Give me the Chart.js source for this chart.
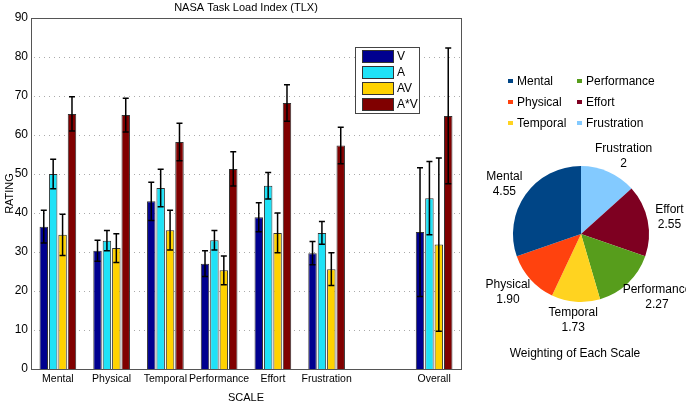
<!DOCTYPE html>
<html>
<head>
<meta charset="utf-8">
<script src="https://cdn.jsdelivr.net/npm/chart.js@4.4.0/dist/chart.umd.min.js"></script>
<style>
  body { margin: 0; background: #fff; width: 686px; height: 406px; overflow: hidden; position: relative; }
  #barChart { position: absolute; left: 0; top: 0; }
  #pieChart { position: absolute; left: 462px; top: 0; }
</style>
</head>
<body>
<canvas id="barChart" width="470" height="406"></canvas>
<canvas id="pieChart" width="224" height="406"></canvas>
<script>
// Bar chart data (the empty category is the gap before "Overall")
const scaleNames = ['Mental', 'Physical', 'Temporal', 'Performance', 'Effort', 'Frustration', '', 'Overall'];
const seriesNames = ['V', 'A', 'AV', 'A*V'];
const seriesColors = ['#00008f', '#1fe2f7', '#ffd200', '#800000'];
const vMean = [36.5, 30.3, 43.0, 27.0, 38.9, 29.7, null, 35.1];
const vErr = [4.2, 2.7, 4.9, 3.3, 3.7, 3.0, null, 16.5];
const aMean = [50.0, 32.9, 46.4, 33.0, 47.0, 34.9, null, 43.8];
const aErr = [3.8, 2.6, 4.8, 2.5, 3.4, 2.9, null, 9.4];
const avMean = [34.4, 31.0, 35.6, 25.3, 34.9, 25.6, null, 31.9];
const avErr = [5.3, 3.7, 5.1, 3.7, 5.1, 4.2, null, 22.2];
const axvMean = [65.4, 65.1, 58.2, 51.3, 68.2, 57.3, null, 64.9];
const axvErr = [4.4, 4.3, 4.8, 4.4, 4.7, 4.7, null, 17.4];

// Pie chart data (legend order)
const weightNames = ['Mental', 'Physical', 'Temporal', 'Performance', 'Effort', 'Frustration'];
const weights = [4.55, 1.90, 1.73, 2.27, 2.55, 2];
const weightText = ['4.55', '1.90', '1.73', '2.27', '2.55', '2'];
const weightColors = ['#004586', '#ff420e', '#ffd320', '#579d1c', '#7e0021', '#83caff'];

const FONT = '"Liberation Sans", Arial, sans-serif';

// dotted horizontal grid, drawn under the bars
const dottedGrid = {
  id: 'dottedGrid',
  beforeDatasetsDraw(chart) {
    const ctx = chart.ctx;
    const a = chart.chartArea;
    const y = chart.scales.y;
    ctx.save();
    ctx.strokeStyle = '#aaa';
    ctx.lineWidth = 1;
    ctx.setLineDash([1, 4]);
    y.ticks.forEach(t => {
      const py = Math.round(y.getPixelForValue(t.value)) + 0.5;
      ctx.beginPath();
      ctx.moveTo(a.left + 3, py);
      ctx.lineTo(a.right, py);
      ctx.stroke();
    });
    ctx.restore();
  }
};

// error bars drawn on top of every bar
const errorBars = {
  id: 'errorBars',
  afterDatasetsDraw(chart) {
    const ctx = chart.ctx;
    const y = chart.scales.y;
    chart.data.datasets.forEach((ds, i) => {
      const meta = chart.getDatasetMeta(i);
      meta.data.forEach((bar, j) => {
        const m = ds.data[j];
        const e = ds.errors[j];
        if (m == null) return;
        const top = y.getPixelForValue(m + e);
        const bot = y.getPixelForValue(m - e);
        ctx.save();
        ctx.strokeStyle = '#000';
        ctx.lineWidth = 1.5;
        ctx.beginPath();
        ctx.moveTo(bar.x, top); ctx.lineTo(bar.x, bot);
        ctx.moveTo(bar.x - 3, top); ctx.lineTo(bar.x + 3, top);
        ctx.moveTo(bar.x - 3, bot); ctx.lineTo(bar.x + 3, bot);
        ctx.stroke();
        ctx.restore();
      });
    });
  }
};

// box around the plot, title + matlab style legend
const frameAndLegend = {
  id: 'frameAndLegend',
  afterDraw(chart) {
    const ctx = chart.ctx;
    const a = chart.chartArea;
    ctx.save();
    ctx.strokeStyle = '#555';
    ctx.lineWidth = 1;
    ctx.strokeRect(Math.round(a.left) + 0.5, Math.round(a.top) + 0.5,
      Math.round(a.right - a.left), Math.round(a.bottom - a.top));

    ctx.fillStyle = '#000';
    ctx.font = '11px ' + FONT;
    ctx.textAlign = 'center';
    ctx.textBaseline = 'middle';
    ctx.fillText('NASA Task Load Index (TLX)', (a.left + a.right) / 2, 8);

    // legend box
    ctx.fillStyle = '#fff';
    ctx.fillRect(355.5, 47.5, 64, 66);
    ctx.strokeStyle = '#444';
    ctx.strokeRect(355.5, 47.5, 64, 66);
    ctx.font = '12px ' + FONT;
    ctx.textAlign = 'left';
    seriesNames.forEach((name, i) => {
      const cy = 56 + i * 16;
      ctx.fillStyle = seriesColors[i];
      ctx.fillRect(362, cy - 6, 31, 12);
      ctx.strokeStyle = '#333';
      ctx.strokeRect(362.5, cy - 5.5, 31, 12);
      ctx.fillStyle = '#000';
      ctx.fillText(name, 397, cy + 1);
    });
    ctx.restore();
  }
};

const seriesMeans = [vMean, aMean, avMean, axvMean];
const seriesErrs = [vErr, aErr, avErr, axvErr];

new Chart(document.getElementById('barChart'), {
  type: 'bar',
  data: {
    labels: scaleNames,
    datasets: seriesNames.map((name, i) => ({
      label: name,
      data: seriesMeans[i],
      errors: seriesErrs[i],
      backgroundColor: seriesColors[i],
      borderColor: '#333',
      borderWidth: 1,
      categoryPercentage: 0.7,
      barPercentage: 0.9,
    })),
  },
  options: {
    responsive: false,
    animation: false,
    layout: { padding: { right: 9, top: 18 } },
    plugins: {
      legend: { display: false },
      tooltip: { enabled: false },
    },
    scales: {
      x: {
        grid: { display: false, drawTicks: false },
        border: { display: false },
        ticks: { color: '#000', font: { family: FONT, size: 10.5 }, padding: 4, maxRotation: 0, minRotation: 0, autoSkip: false },
        title: { display: true, text: 'SCALE', color: '#000', font: { family: FONT, size: 11 }, padding: { top: 2, bottom: 1 } },
        afterFit: (s) => { s.height = 37; },
      },
      y: {
        min: 0,
        max: 90,
        ticks: { stepSize: 10, color: '#000', font: { family: FONT, size: 12 }, padding: 3 },
        grid: { display: false, drawTicks: false },
        border: { display: false },
        title: { display: true, text: 'RATING', color: '#000', font: { family: FONT, size: 11 }, padding: { top: 3, bottom: 0 } },
        afterFit: (s) => { s.width = 31; },
      },
    },
  },
  plugins: [dottedGrid, errorBars, frameAndLegend],
});

// pie labels around the slices and the two column legend
const pieDecor = {
  id: 'pieDecor',
  afterDraw(chart) {
    const ctx = chart.ctx;
    const meta = chart.getDatasetMeta(0);
    const names = chart.data.labels;
    const texts = chart.data.datasets[0].valueText;
    ctx.save();
    ctx.font = '12px ' + FONT;
    ctx.fillStyle = '#000';
    ctx.textAlign = 'center';
    ctx.textBaseline = 'middle';
    meta.data.forEach((arc, i) => {
      const mid = (arc.startAngle + arc.endAngle) / 2;
      const dx = Math.cos(mid), dy = Math.sin(mid);
      const w = Math.max(ctx.measureText(names[i]).width, ctx.measureText(texts[i]).width);
      const r = arc.outerRadius + 8;
      const cx = arc.x + dx * r + dx * w / 2;
      const cy = arc.y + dy * r + dy * 10;
      ctx.fillText(names[i], cx, cy - 7);
      ctx.fillText(texts[i], cx, cy + 8);
    });

    // legend
    weightNames.forEach((name, i) => {
      const col = Math.floor(i / 3), row = i % 3;
      const x = 46 + col * 69, y = 81 + row * 21;
      ctx.fillStyle = weightColors[i];
      ctx.fillRect(x, y - 2, 5, 4);
      ctx.fillStyle = '#000';
      ctx.textAlign = 'left';
      ctx.fillText(name, x + 9, y + 1);
    });

    ctx.textAlign = 'center';
    ctx.fillText('Weighting of Each Scale', 113, 354);
    ctx.restore();
  }
};

// slices run clockwise from the top: Frustration ... Mental
const pieOrder = [5, 4, 3, 2, 1, 0];
new Chart(document.getElementById('pieChart'), {
  type: 'pie',
  data: {
    labels: pieOrder.map(i => weightNames[i]),
    datasets: [{
      data: pieOrder.map(i => weights[i]),
      valueText: pieOrder.map(i => weightText[i]),
      backgroundColor: pieOrder.map(i => weightColors[i]),
      borderWidth: 0,
    }],
  },
  options: {
    responsive: false,
    animation: false,
    layout: { padding: { left: 51, right: 37, top: 166, bottom: 104 } },
    plugins: { legend: { display: false }, tooltip: { enabled: false } },
  },
  plugins: [pieDecor],
});
</script>
</body>
</html>
